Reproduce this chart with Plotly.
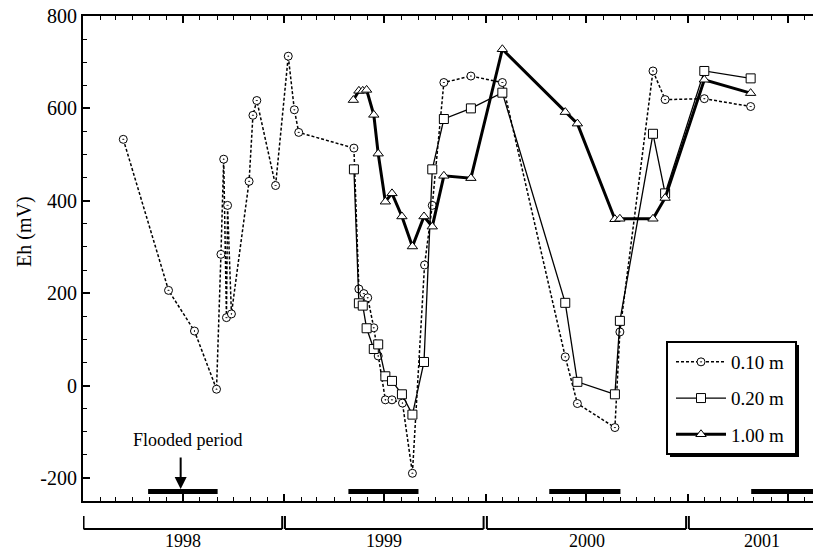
import plotly.graph_objects as go
import pandas as pd

# ---- data ----
d10 = ['1998-03-15','1998-06-05','1998-07-22','1998-08-31','1998-09-08','1998-09-13','1998-09-18',
       '1998-09-20','1998-09-27','1998-10-29','1998-11-05','1998-11-12','1998-12-16','1999-01-08',
       '1999-01-19','1999-01-27','1999-05-07','1999-05-16','1999-05-25','1999-06-01','1999-06-12',
       '1999-06-20','1999-07-03','1999-07-15','1999-08-03','1999-08-21','1999-09-12','1999-09-26',
       '1999-10-17','1999-12-05','2000-01-31','2000-05-24','2000-06-15','2000-08-22','2000-08-31',
       '2000-10-30','2000-11-21','2001-01-31','2001-04-25']
v10 = [533, 206, 118, -8, 284, 490, 147, 390, 155, 442, 585, 617, 433, 713, 597, 548, 514, 209, 199,
       190, 125, 64, -31, -31, -38, -190, 261, 390, 656, 670, 656, 62, -39, -91, 116, 681, 619, 621, 604]

d20 = ['1999-05-07','1999-05-16','1999-05-23','1999-05-30','1999-06-12','1999-06-20','1999-07-03',
       '1999-07-15','1999-08-02','1999-08-21','1999-09-11','1999-09-26','1999-10-17','1999-12-05',
       '2000-01-31','2000-05-24','2000-06-15','2000-08-22','2000-08-31','2000-10-30','2000-11-21',
       '2001-01-31','2001-04-25']
v20 = [468, 178, 173, 124, 79, 89, 20, 10, -19, -63, 51, 468, 577, 600, 634, 179, 8, -19, 140, 545,
       416, 681, 665]

d100 = ['1999-05-06','1999-05-16','1999-05-23','1999-05-30','1999-06-12','1999-06-20','1999-07-03',
        '1999-07-15','1999-08-02','1999-08-21','1999-09-11','1999-09-26','1999-10-17','1999-12-05',
        '2000-01-31','2000-05-24','2000-06-15','2000-08-22','2000-08-31','2000-10-30','2000-11-21',
        '2001-01-31','2001-04-25']
v100 = [618, 638, 638, 640, 586, 502, 398, 416, 366, 301, 366, 344, 454, 449, 728, 592, 567, 360, 361,
        361, 406, 662, 633]

series_names = ['0.10 m', '0.20 m', '1.00 m']

flood_start = ['1998-04-29', '1999-04-27', '2000-04-25', '2001-04-26']
flood_end = ['1998-09-02', '1999-09-01', '2000-09-01', '2001-09-01']

year_labels = ['1998', '1999', '2000', '2001']
year_start = ['1998-01-02', '1999-01-02', '2000-01-03', '2001-01-03']
year_end = ['1998-12-28', '1999-12-28', '2000-12-29', '2001-09-26']

y_tickvals = [-200, 0, 200, 400, 600, 800]
y_ticktext = ['-200', '0', '200', '400', '600', '800']

x_range = ['1998-01-01', '2001-08-16']
y_range = [-250, 800]

FONT = 'Liberation Serif, Times New Roman, serif'

W, H = 813, 550
ML, MR, MT, MB = 83, 0, 16, 49
PW, PH = W - ML - MR, H - MT - MB


def px_x(p):
    return (p - ML) / PW


def px_y(p):
    return (H - MB - p) / PH


fig = go.Figure()

fig.add_trace(go.Scatter(
    x=d10, y=v10, name=series_names[0], mode='lines+markers', legendgroup='a',
    line=dict(color='black', width=1.5, dash='3px,2px'),
    marker=dict(symbol='circle-dot', size=8, color='white', line=dict(color='black', width=1))))
fig.add_trace(go.Scatter(
    x=d20, y=v20, name=series_names[1], mode='lines+markers', legendgroup='b',
    line=dict(color='black', width=1.3),
    marker=dict(symbol='square', size=9, color='white', line=dict(color='black', width=1))))
fig.add_trace(go.Scatter(
    x=d100, y=v100, name=series_names[2], mode='lines+markers', legendgroup='c',
    line=dict(color='black', width=3),
    marker=dict(symbol='triangle-up', size=9, color='white', line=dict(color='black', width=1))))

shapes = []
# flooded period bars
for s, e in zip(flood_start, flood_end):
    shapes.append(dict(type='rect', xref='x', yref='y', x0=s, x1=e, y0=-235, y1=-224,
                       fillcolor='black', line=dict(width=0), layer='above'))
# year brackets
annotations = []
yb_top, yb_bot, y_lab = px_y(516), px_y(529), px_y(541)
for lab, s, e in zip(year_labels, year_start, year_end):
    shapes.append(dict(type='line', xref='x', yref='paper', x0=s, x1=e, y0=yb_bot, y1=yb_bot,
                       line=dict(color='black', width=2)))
    shapes.append(dict(type='line', xref='x', yref='paper', x0=s, x1=s, y0=yb_top, y1=yb_bot,
                       line=dict(color='black', width=2)))
    shapes.append(dict(type='line', xref='x', yref='paper', x0=e, x1=e, y0=yb_top, y1=yb_bot,
                       line=dict(color='black', width=2)))
    mid = pd.Timestamp(s) + (pd.Timestamp(e) - pd.Timestamp(s)) / 2
    annotations.append(dict(text=lab, x=mid.strftime('%Y-%m-%d %H:%M'), xref='x', yref='paper',
                            y=y_lab, showarrow=False, xanchor='center', yanchor='middle',
                            font=dict(family=FONT, size=18, color='black')))

# legend shadow and box (reference box: x 667-796, y 342-454)
shapes.append(dict(type='rect', xref='paper', yref='paper', x0=px_x(670), x1=px_x(799),
                   y0=px_y(457), y1=px_y(345), fillcolor='black', line=dict(width=0),
                   layer='above'))
shapes.append(dict(type='rect', xref='paper', yref='paper', x0=px_x(667), x1=px_x(796),
                   y0=px_y(454), y1=px_y(342), fillcolor='white',
                   line=dict(color='black', width=2), layer='above'))

# flooded period label + arrow
annotations.append(dict(text='Flooded period', x='1998-07-10', y=-119, xref='x', yref='y',
                        showarrow=False, xanchor='center', yanchor='middle',
                        font=dict(family=FONT, size=18, color='black')))
annotations.append(dict(text='', x='1998-06-27', y=-224, xref='x', yref='y', showarrow=True,
                        ax=0, ay=-33, arrowhead=2, arrowsize=1.2, arrowwidth=2, arrowcolor='black'))
# y axis title
annotations.append(dict(text='Eh (mV)', x=px_x(24), y=px_y(232), xref='paper', yref='paper',
                        textangle=-90, showarrow=False, xanchor='center', yanchor='middle',
                        font=dict(family=FONT, size=20, color='black')))

fig.update_layout(
    width=W, height=H,
    margin=dict(l=ML, r=MR, t=MT, b=MB),
    paper_bgcolor='white', plot_bgcolor='white',
    font=dict(family=FONT, size=19, color='black'),
    shapes=shapes, annotations=annotations,
    showlegend=True,
    legend=dict(x=px_x(669), y=px_y(341), xanchor='left', yanchor='top',
                bgcolor='rgba(0,0,0,0)', bordercolor='rgba(0,0,0,0)', borderwidth=2,
                tracegroupgap=8.5, itemwidth=50,
                font=dict(family=FONT, size=19, color='black')),
)
fig.update_xaxes(
    type='date', range=x_range, showline=True, linewidth=2, linecolor='black', mirror='ticks',
    ticks='inside', ticklen=7, tickwidth=1.5, tickcolor='black', dtick='M6', tick0='1998-01-01',
    showticklabels=False, showgrid=False, zeroline=False,
    minor=dict(dtick='M1', tick0='1998-01-01', ticks='inside', ticklen=4, tickwidth=1,
               tickcolor='black', showgrid=False))
fig.update_yaxes(
    range=y_range, showline=True, linewidth=2, linecolor='black', mirror=False,
    ticks='inside', ticklen=7, tickwidth=1.5, tickcolor='black',
    tickmode='array', tickvals=y_tickvals, ticktext=y_ticktext,
    showgrid=False, zeroline=False, tickfont=dict(family=FONT, size=20, color='black'),
    minor=dict(dtick=50, tick0=0, ticks='inside', ticklen=4, tickwidth=1, tickcolor='black',
               showgrid=False))

fig.write_html('out.html', post_script="document.body.style.margin='0';",
               config={'displayModeBar': False})
